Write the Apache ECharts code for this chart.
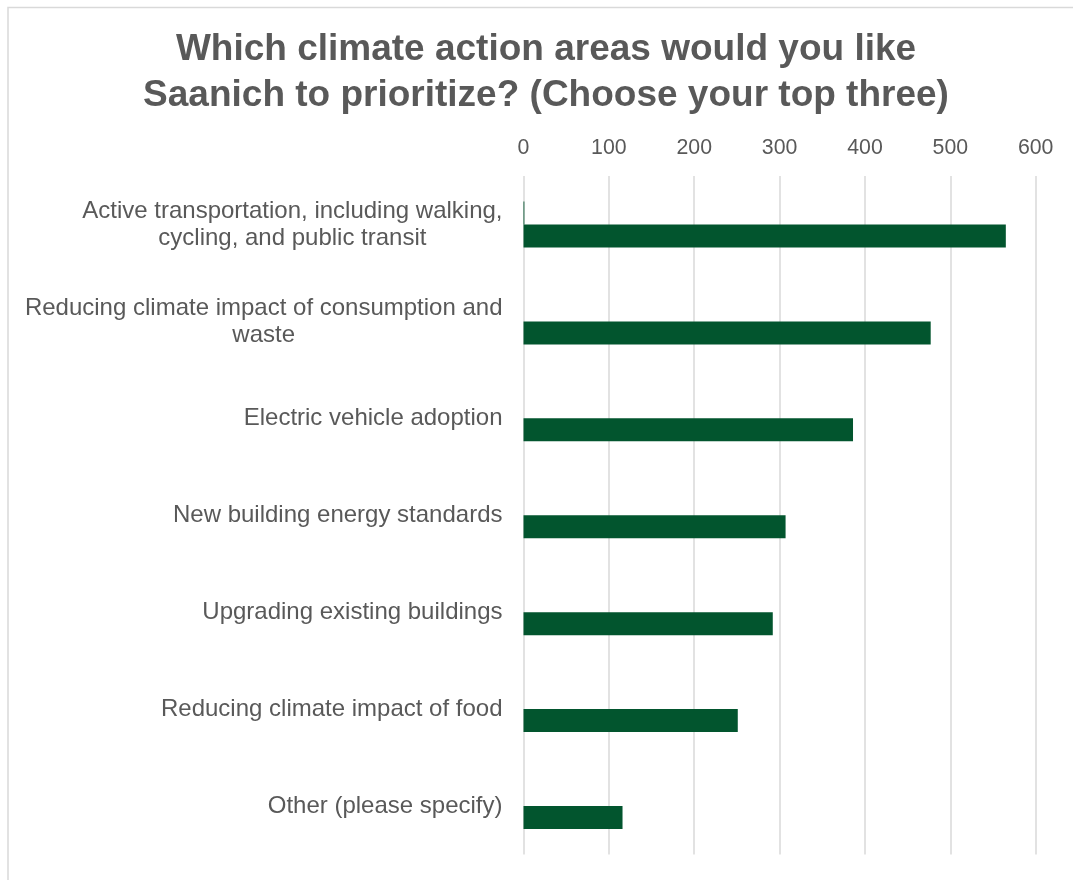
<!DOCTYPE html>
<html>
<head>
<meta charset="utf-8">
<script src="https://cdn.jsdelivr.net/npm/echarts@6/dist/echarts.min.js"></script>
<style>
html,body{margin:0;padding:0;background:#fff;}
#chart{width:1073px;height:880px;}
</style>
</head>
<body>
<div id="chart"></div>
<script>
const titleLines = ['Which climate action areas would you like', 'Saanich to prioritize? (Choose your top three)'];
const categories = [
  'Active transportation, including walking,\ncycling, and public transit',
  'Reducing climate impact of consumption and\nwaste',
  'Electric vehicle adoption',
  'New building energy standards',
  'Upgrading existing buildings',
  'Reducing climate impact of food',
  'Other (please specify)'
];
const seriesA = [1, 0, 0, 0, 0, 0, 0];
const seriesB = [565, 477, 386, 307, 292, 251, 116];
const xTicks = {min: 0, max: 600, interval: 100};

const FONT = "'Liberation Sans', Arial, sans-serif";
const chart = echarts.init(document.getElementById('chart'));
chart.setOption({
  animation: false,
  backgroundColor: '#ffffff',
  graphic: [
    {type: 'rect', shape: {x: 8, y: 7.5, width: 2000, height: 2000}, style: {fill: 'none', stroke: '#d9d9d9', lineWidth: 1.5}, silent: true, z: -1},
    {type: 'text', x: 546, y: 73, style: {text: titleLines.join('\n'), font: 'bold 37px ' + FONT, fill: '#595959', align: 'center', verticalAlign: 'middle', lineHeight: 46}}
  ],
  grid: {left: 523.5, right: 37.3, top: 176, bottom: 25.5, containLabel: false},
  xAxis: {
    type: 'value', position: 'top', min: xTicks.min, max: xTicks.max, interval: xTicks.interval,
    axisLine: {show: false}, axisTick: {show: false},
    axisLabel: {color: '#595959', fontSize: 21.3, fontFamily: FONT, margin: 17},
    splitLine: {show: true, lineStyle: {color: '#d9d9d9', width: 1.5}}
  },
  yAxis: {
    type: 'category', data: categories, inverse: true,
    axisLine: {show: false}, axisTick: {show: false},
    axisLabel: {
      margin: 21, align: 'right',
      formatter: v => v.split('\n').map(s => '{c|' + s + '}').join('\n'),
      rich: {c: {color: '#595959', fontSize: 24, fontFamily: FONT, align: 'center', lineHeight: 27}}
    }
  },
  series: [
    {type: 'bar', data: seriesA, barWidth: 23, barGap: '0%', itemStyle: {color: '#02552E'}},
    {type: 'bar', data: seriesB, barWidth: 23, barGap: '0%', itemStyle: {color: '#02552E'}}
  ]
});
</script>
</body>
</html>
